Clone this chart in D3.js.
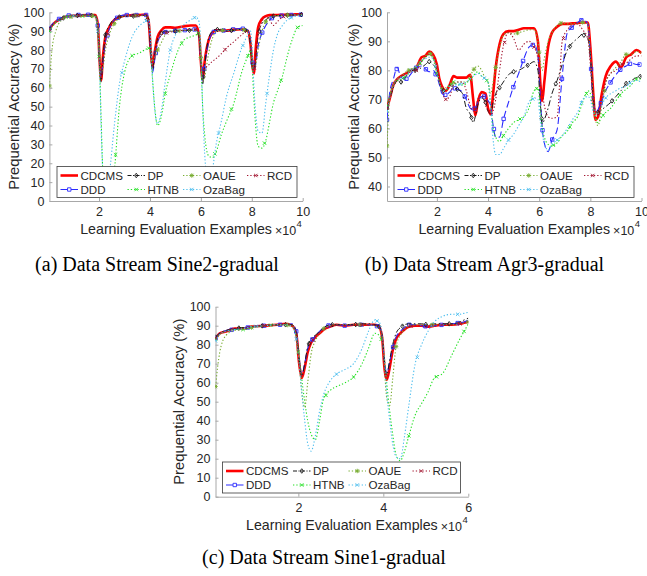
<!DOCTYPE html>
<html><head><meta charset="utf-8">
<script src="https://cdn.jsdelivr.net/npm/d3@7"></script>
<style>body{margin:0;background:#fff} svg{display:block}</style>
</head><body>
<svg id="c" width="647" height="576"></svg>
<script>
// ---------------- DATA ----------------
const seriesOrder = ["CDCMS","DDD","DP","HTNB","OAUE","OzaBag","RCD"];
const legendRows = [["CDCMS","DP","OAUE","RCD"],["DDD","HTNB","OzaBag"]];

// (a) Sine2-gradual, x in 10^4 examples
const xA = [0.05,0.15,0.3,0.5,0.8,1.2,1.6,1.85,1.95,2.02,2.08,2.15,2.25,2.4,2.6,2.8,3.0,3.3,3.6,3.85,3.95,4.03,4.1,4.2,4.3,4.45,4.6,4.8,5.0,5.3,5.6,5.8,5.93,6.0,6.07,6.15,6.3,6.45,6.6,6.8,7.0,7.3,7.6,7.85,7.95,8.02,8.08,8.15,8.25,8.4,8.55,8.7,8.85,9.0,9.2,9.4,9.6,9.8,10.0];
const A_CDCMS = [91,93,95,96.5,98,98.3,98.5,98.5,94,75,64,76,87,92,96,97.5,98.2,98.5,98.6,98.8,95,80,71,80,87,90.5,92,92,91.8,92.5,93,93,88,74,64,74,85,89,90.5,90.5,90.3,90.8,91,90,83,72,67.5,80,92,96.5,98,98.5,98.6,98.6,98.7,98.8,98.8,99,99];
const A_DP = [91,93,95,96.5,98,98.3,98.5,98.3,93,72,63,75,88,93,96.5,97.5,97.8,98,98,98.5,94,78,69,79,86,89,90,90,90,90.3,90.5,90.5,87,72,62,72,86,90,91,90.5,90,90.5,91,90,82,71,68.5,75,88,94,96,97.5,98,98.2,98.3,98.5,98.5,98.7,98.8];
const A_DDD = [91.5,93.5,95.5,97,98.3,98.6,98.7,98.5,93,74,66,73,84,91,96,98,98.5,98.6,98.5,98.6,95,79,68,76,84,88,89.5,90,90.2,90.5,90.7,91,87,73,64,72,84,89,90.5,90.5,90.2,91,91.5,90.5,84,74,70,72,82,89,93,96,97.5,98,98.3,98.5,98.6,98.7,98.8];
const A_OAUE = [61,80,90,95.5,97.5,98,98.2,98,94,80,68,70,80,88,94,97,98,98.2,98.3,98.3,96,85,74,76,80,84,88,90,90,90.3,90.5,90.5,88,76,64,66,78,86,90,90.5,90.3,90.5,91,90,85,75,70,72,80,90,95,97,98,98.3,98.3,98.5,98.6,98.7,98.8];
const A_RCD = [91,93,95,96.5,98,98.3,98.5,98.3,93,73,65,72,84,91,95.5,97.5,98,98.3,98.3,98.3,95,80,71,78,84,88,89,89.5,90,90.5,91,91,87,74,68,70,72,74,75.5,78,81,84.5,88,90.5,85,74,69,74,88,95,97.5,96,93,95,97.5,98.3,98.5,98.7,98.8];
const A_HTNB = [90,92,94.5,96.5,98,98,98,98,88,72,45,15,3,2,16,50,68,77,78.5,80.5,81,78,65,48,40,45,57,67,76,85,87,88,89,75,50,35,24,23,26,35,42,52,68,77,80,70,55,40,29,28,32,42,52,58,66,77,86,92,93];
const A_OzaBag = [91,93,95,96.5,98,98.3,98.5,98,90,70,40,15,5,14,40,62,74,87,93,95.5,96,85,65,47,41,48,63,80,88,93,96,97.5,95,80,50,25,8,16,30,42,55,68,81,88,90,80,62,47,37,36,52,67,80,88,93,96,97.5,98,98.5];

// (b) Agr3-gradual
const xB = [0.05,0.15,0.3,0.45,0.6,0.8,1.0,1.2,1.4,1.55,1.7,1.85,2.0,2.1,2.2,2.35,2.5,2.65,2.8,3.0,3.15,3.3,3.42,3.5,3.6,3.75,3.9,4.0,4.1,4.2,4.3,4.45,4.6,4.8,5.0,5.2,5.4,5.6,5.8,5.95,6.05,6.12,6.2,6.35,6.5,6.7,6.9,7.1,7.3,7.5,7.7,7.9,8.0,8.1,8.2,8.3,8.45,8.6,8.8,9.0,9.2,9.4,9.6,9.8,10.0];
const B_CDCMS = [67,70,75,77,78,79,80,81,84.5,85,86.5,85.5,82,77,74.5,73,75,78,77.5,77.5,77.5,78.5,70,64.5,69,72.5,72,67,65,72,81,89,92.5,93.5,93.5,94,94.5,94.5,94.5,90,75,69.5,76,88,93,95,96,96,96.2,96.3,96.5,96.5,88,74,63,64,72,78,81.5,83,81,84.5,85.5,87,86];
const B_DP = [67,70,74,76.5,76,78,80,80,81,82,83,82,80,76,73,73,75,74,73.5,72,67,65,62,64,68,70.5,69,66,65,69,72,74,76,78.5,79.5,80,81,82,83,80,68,61.5,63,67,72,76.5,82,87,89.5,91,92.5,91,85,72,66,65.5,66.5,67.5,69,71,73,75.5,76.5,77.5,78];
const B_DDD = [63,72,77,81,77.5,77,79,81,81.5,80.5,79.5,80,78,75,72,71.5,72.5,74,73.5,72.5,70,67,66.5,67,69,71,71,69.5,68,61,57,57,63,69,74.5,79,84,88,89,85,70,60,55,52,56,59.5,78,93,95,96.5,97.5,96,85,70,65.5,66.5,69.5,73,76,78.5,80.5,81.5,82.5,82,82];
const B_OAUE = [54,70,75,77,78,79.5,80.5,81.5,83.5,85,86,85,79,76,74,74,75,75.5,76,76,76,78,80,81,81.5,80,77,76,72,76,81,88,92,93,92.5,93,93.5,94,94,90,82.5,80,84,90,93,95.5,96.5,96,96,96.2,96.5,96,85,72,63,61,68,75.5,79,81,83,85.5,85.5,86.5,86];
const B_RCD = [67,70,75,77,78,79,80,80,83,84.5,85.5,84.5,81,76,73,70,71,75,76,76,73,68,66,66.5,70,72,68,66,64.5,66,70,80,88.5,93,91,87,89,90,88,84,75,72,68,64,63.5,64,90,94,95.5,96,94,91,82,70,66,64.5,70,76,79,80,82,82.5,84,85,85];
const B_HTNB = [68,71,75,76.5,77,78,80,81,83,84.5,85.5,84,79,76,73.5,73,75,76,75,75,75.5,77,78,79,79.5,78,77,76,68,60,57,55.5,57.5,60,62,63,64,67,73,74,66,60,57,54.5,54,55,57.5,59,62,64,69,73,72,68,64,62,64,65.5,67,69.5,72,73.5,75,77,77];
const B_OzaBag = [66,70,75,77,77.5,78.5,80,81.5,83.5,84,84.5,84,80,76,73,73.5,74.5,75,75,75.5,76,77,78,78.5,79,78,77,76,68,56,51,51,53,56,58,61,64,69,70.5,70,62,58,55,52.5,54.5,56,57.5,60,63,65.5,70,71,70,66,64.5,65,68,70.5,72,73,74,74.5,76,76.5,76];

// (c) Sine1-gradual
const xC = [0.05,0.15,0.3,0.5,0.7,0.9,1.2,1.5,1.7,1.85,1.95,2.02,2.08,2.15,2.22,2.3,2.4,2.5,2.6,2.75,2.9,3.1,3.3,3.5,3.65,3.8,3.9,3.97,4.03,4.08,4.15,4.22,4.3,4.4,4.5,4.6,4.75,4.9,5.05,5.2,5.4,5.6,5.8,5.9,6.0];
const C_CDCMS = [83,86,87,88.5,88.5,89.5,90,90.5,91,90,86,70,62.5,68,76,81,84,86,88,89.5,90.5,90,90.5,90.5,90.5,90.5,89.5,84,67,61.5,68,77,83,86,88,89.5,90,90,89.5,90,90.5,90.5,91,91.5,92];
const C_DP = [84,86,87.5,88.5,89,89.5,90,90.5,90.5,90.5,87,72,63.5,70,79,83,85,87,89,90.5,90.5,90.5,90.5,91,91,90.5,89.5,85,70,64,72,80,86,89,90.5,91,91,91,90.5,91,91,91,92,93,94];
const C_DDD = [83.5,86,87.5,88,88.5,89.5,90,90.5,90.5,91,87,73,64,70,78,82,84.5,87,89,90.5,90.5,90,90.5,90.5,90.5,90,89.5,85,71,65,71,78,84,87,89,90.5,90.5,90,89.5,90,90.5,91,91.5,92,93];
const C_OAUE = [58,76,85,87.5,88,89,90,90.5,90.5,90,85,70,55,47,60,75,82,86,88.5,90,90.5,90.5,90.5,90.5,90.5,90,89,84,66,52,48,62,79,85,88,90,90.5,90.5,90.5,90.5,90.5,90.5,91,91.5,92];
const C_RCD = [83.5,86,87,88.5,88.5,89.5,90,90.5,91,90,86,70,63,68,76,81,84,86.5,88,89.5,90.5,90,90.5,90.5,90.5,90.5,89.5,84,67,62,68,77,83,86,88,89.5,90,90,90,90.5,90.5,90.5,91,91.5,92];
const C_HTNB = [83,85.5,87,88,88,89,90,90.5,90.5,90,84,73,62,50,40,33,30,40,52,56,58,60,63,70,78,86,85,82,72,60,45,33,22,19,24,32,43,49,55,62.5,65,74,83,87,91];
const C_OzaBag = [82,85.5,87,88,88.5,89.5,90,90.5,90.5,89.5,83,70,55,40,28,24,32,45,54,61,64.5,67,70,78,87,93,92,85,70,55,40,28,21,20,32,48,70,80,87,92,95,96,96,96.5,97];

const xTicksA = [2,4,6,8,10], yTicksA = [0,10,20,30,40,50,60,70,80,90,100];
const xTicksB = [2,4,6,8,10], yTicksB = [40,50,60,70,80,90,100];
const xTicksC = [2,4,6],      yTicksC = [0,10,20,30,40,50,60,70,80,90,100];

// ---------------- STYLE ----------------
const styles = {
  CDCMS: {color:"#ff0000", width:2.6, dash:null, marker:null},
  DDD:   {color:"#2a2aff", width:1.1, dash:"7,3.5", marker:"square", step:0.38},
  DP:    {color:"#1a1a1a", width:1.0, dash:"6,2.5,1.5,2.5", marker:"diamond", step:0.55},
  HTNB:  {color:"#22e022", width:1.1, dash:"1.3,2", marker:"x", step:0.65},
  OAUE:  {color:"#77ac30", width:1.1, dash:"1.3,2", marker:"star", step:0.85},
  OzaBag:{color:"#4dbeee", width:1.1, dash:"1.3,2", marker:"x", step:0.95},
  RCD:   {color:"#a2142f", width:1.1, dash:"1.3,2", marker:"x", step:1.15}
};
const SANS = "'Liberation Sans', Arial, Helvetica, sans-serif";
const SERIF = "'Liberation Serif', 'Times New Roman', serif";
const AXIS = "#a8a8a8", TXT = "#262626";
const MR = 1.7;

const svg = d3.select("#c");

function markerPath(t, r){
  switch(t){
    case "square": return `M${-r},${-r}h${2*r}v${2*r}h${-2*r}Z`;
    case "diamond": return `M0,${-r*1.35}L${r},0L0,${r*1.35}L${-r},0Z`;
    case "x": return `M${-r},${-r}L${r},${r}M${-r},${r}L${r},${-r}`;
    case "star": return `M${-r},${-r}L${r},${r}M${-r},${r}L${r},${-r}M0,${-r*1.3}V${r*1.3}M${-r*1.3},0H${r*1.3}`;
  }
}
function interp(xs, ys, v){
  const i = Math.min(Math.max(d3.bisectRight(xs, v), 1), xs.length-1);
  const t = (v - xs[i-1])/(xs[i]-xs[i-1]);
  return ys[i-1] + t*(ys[i]-ys[i-1]);
}

function panel(p){
  const x = d3.scaleLinear().domain(p.xDomain).range(p.xRange);
  const y = d3.scaleLinear().domain(p.yDomain).range(p.yRange);
  const g = svg.append("g");
  const cid = "clip"+p.id;
  svg.append("defs").append("clipPath").attr("id",cid).append("rect")
    .attr("x",p.xRange[0]).attr("y",p.yRange[1]-2)
    .attr("width",p.xRange[1]-p.xRange[0]).attr("height",p.yRange[0]-p.yRange[1]+2);

  // axes
  const xa = g.append("g").attr("transform",`translate(0,${p.yRange[0]})`)
    .call(d3.axisBottom(x).tickValues(p.xTicks).tickFormat(d3.format("d")).tickSizeInner(-3).tickSizeOuter(0).tickPadding(6.5));
  const ya = g.append("g").attr("transform",`translate(${p.xRange[0]},0)`)
    .call(d3.axisLeft(y).tickValues(p.yTicks).tickSizeInner(-3).tickSizeOuter(0).tickPadding(5));
  [xa,ya].forEach(a=>{
    a.select(".domain").attr("stroke",AXIS).attr("stroke-width",1);
    a.selectAll(".tick line").attr("stroke",AXIS);
    a.selectAll(".tick text").attr("fill",TXT).style("font-family",SANS).style("font-size","12.5px");
  });

  // lines
  const lg = g.append("g").attr("clip-path",`url(#${cid})`);
  const line = d3.line().x(d=>x(d[0])).y(d=>y(d[1])).curve(d3.curveMonotoneX);
  seriesOrder.forEach(name=>{
    const vals = p.data[name], st = styles[name];
    const pts = p.xs.map((xv,i)=>[xv, vals[i]]);
    lg.append("path").attr("d", line(pts)).attr("fill","none")
      .attr("stroke", st.color).attr("stroke-width", st.width)
      .attr("stroke-dasharray", st.dash).attr("stroke-linejoin","round");
    if(st.marker){
      const x0 = p.xs[0], x1 = p.xs[p.xs.length-1];
      for(let k=0; x0+k*st.step <= x1+1e-9; k++){
        const mx = x0+k*st.step, my = interp(p.xs, vals, mx);
        lg.append("path").attr("d", markerPath(st.marker, MR))
          .attr("transform",`translate(${x(mx)},${y(my)})`)
          .attr("fill","none").attr("stroke", st.color).attr("stroke-width",0.9);
      }
    }
  });

  // legend
  const L = p.legend;
  const lgd = g.append("g").attr("transform",`translate(${L.x},${L.y})`);
  lgd.append("rect").attr("width",L.w).attr("height",L.h).attr("fill","#fff")
    .attr("stroke","#3a3a3a").attr("stroke-width",0.8);
  const colX = [3.5, 70.5, 126, 190], rowY = [9, 23];
  legendRows.forEach((row,ri)=>row.forEach((name,ci)=>{
    const st = styles[name], lx = colX[ci], ly = rowY[ri];
    lgd.append("line").attr("x1",lx).attr("x2",lx+17.5).attr("y1",ly).attr("y2",ly)
      .attr("stroke",st.color).attr("stroke-width",st.width)
      .attr("stroke-dasharray", st.dash ? (name==="DP" ? "4,1.5,1,1.5" : st.dash) : null);
    if(st.marker) lgd.append("path").attr("d",markerPath(st.marker,MR))
      .attr("transform",`translate(${lx+8.75},${ly})`).attr("fill","none")
      .attr("stroke",st.color).attr("stroke-width",0.9);
    lgd.append("text").attr("x",lx+20).attr("y",ly).attr("dy","0.36em")
      .attr("fill",TXT).style("font-family",SANS).style("font-size","11.6px").text(name);
  }));

  // axis labels
  const cx = (p.xRange[0]+p.xRange[1])/2;
  const xl = g.append("text").attr("x",cx).attr("y",p.xLabelY).attr("text-anchor","middle")
    .attr("fill",TXT).style("font-family",SANS).style("font-size","14.2px")
    .text("Learning Evaluation Examples");
  const wl = xl.node().getComputedTextLength();
  const ex = g.append("text").attr("x",cx+wl/2+3).attr("y",p.xLabelY+1.5)
    .attr("fill",TXT).style("font-family",SANS).style("font-size","12.5px").text("\u00d710");
  const we = ex.node().getComputedTextLength();
  g.append("text").attr("x",cx+wl/2+3+we+0.5).attr("y",p.xLabelY-6.5)
    .attr("fill",TXT).style("font-family",SANS).style("font-size","9.5px").text("4");
  const cy = (p.yRange[0]+p.yRange[1])/2;
  g.append("text").attr("transform",`translate(${p.yLabelX},${cy}) rotate(-90)`)
    .attr("text-anchor","middle").attr("dy","0.35em")
    .attr("fill",TXT).style("font-family",SANS).style("font-size","14.8px")
    .text("Prequential Accuracy (%)");
  // caption
  g.append("text").attr("x",p.capX).attr("y",p.capY).attr("text-anchor","middle")
    .attr("fill","#000").style("font-family",SERIF).style("font-size","20px").text(p.caption);
}

panel({id:"a", xs:xA, data:{CDCMS:A_CDCMS,DDD:A_DDD,DP:A_DP,HTNB:A_HTNB,OAUE:A_OAUE,OzaBag:A_OzaBag,RCD:A_RCD},
  xDomain:[0.05,10], xRange:[49.4,302.7], yDomain:[0,100], yRange:[201,12.3],
  xTicks:xTicksA, yTicks:yTicksA, legend:{x:57,y:166.5,w:240,h:31},
  xLabelY:233.5, yLabelX:14, caption:"(a) Data Stream Sine2-gradual", capX:157, capY:271});
panel({id:"b", xs:xB, data:{CDCMS:B_CDCMS,DDD:B_DDD,DP:B_DP,HTNB:B_HTNB,OAUE:B_OAUE,OzaBag:B_OzaBag,RCD:B_RCD},
  xDomain:[0.05,10], xRange:[387,641.5], yDomain:[35,100], yRange:[201,12.3],
  xTicks:xTicksB, yTicks:yTicksB, legend:{x:394,y:166.5,w:240,h:31},
  xLabelY:233.5, yLabelX:353.5, caption:"(b) Data Stream Agr3-gradual", capX:484.5, capY:271});
panel({id:"c", xs:xC, data:{CDCMS:C_CDCMS,DDD:C_DDD,DP:C_DP,HTNB:C_HTNB,OAUE:C_OAUE,OzaBag:C_OzaBag,RCD:C_RCD},
  xDomain:[0.05,6], xRange:[215.5,468.3], yDomain:[0,100], yRange:[496.7,306.7],
  xTicks:xTicksC, yTicks:yTicksC, legend:{x:222.5,y:462,w:238,h:31},
  xLabelY:529.5, yLabelX:179, caption:"(c) Data Stream Sine1-gradual", capX:324, capY:564});
</script>
</body></html>
